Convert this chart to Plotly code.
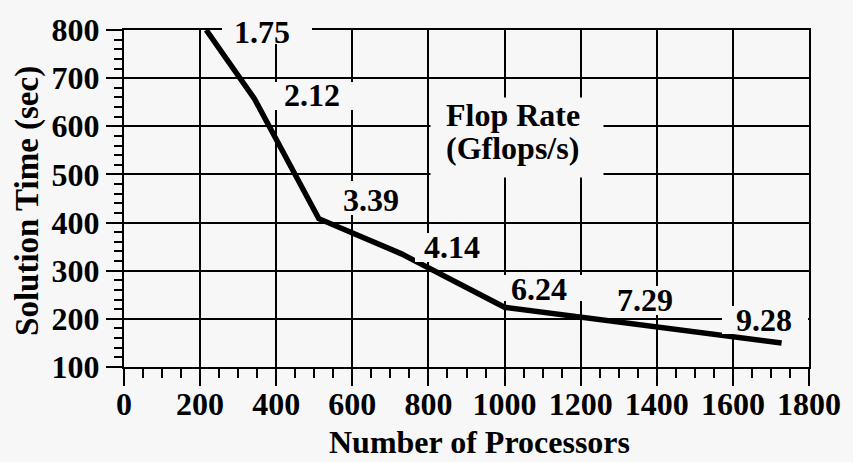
import plotly.graph_objects as go

# ---- data ----
processors = [216, 343, 512, 729, 1000, 1331, 1728]
solution_time = [800, 657, 408, 335, 224, 191, 150]
flop_rate = ["1.75", "2.12", "3.39", "4.14", "6.24", "7.29", "9.28"]
x_ticks = [0, 200, 400, 600, 800, 1000, 1200, 1400, 1600, 1800]
y_ticks = [100, 200, 300, 400, 500, 600, 700, 800]

# ---- label layout (pixel offsets from data point) ----
# text: (dx of text left, dy up of text centre)
text_off = [(26, -2), (27, 4), (22, 19), (21, 7), (4, 18), (-16, 23), (-48, 23)]
# box: (dx of box centre, dy up, width, height)
box_off = [(61, 2, 90, 32), (59, 3, 90, 28), (52, 21, 74, 34), (50, 6, 72, 29),
           (39, 19, 89, 26), (12, 23, 72, 29), (-17, 23, 86, 28)]

BG = "#f7f7f7"
FONT = "Liberation Serif"

fig = go.Figure()
fig.add_trace(go.Scatter(
    x=processors, y=solution_time, mode="lines",
    line=dict(color="black", width=5.5), hoverinfo="skip", showlegend=False,
))

annotations = []
for xv, yv, lab, (tdx, tdy), (bdx, bdy, bw, bh) in zip(
        processors, solution_time, flop_rate, text_off, box_off):
    annotations.append(dict(
        x=xv, y=yv, xref="x", yref="y", text=" ", showarrow=False,
        xshift=bdx, yshift=bdy, width=bw, height=bh, bgcolor=BG,
        borderpad=0, borderwidth=0, xanchor="center", yanchor="middle",
        font=dict(size=4)))
    annotations.append(dict(
        x=xv, y=yv, xref="x", yref="y", text=lab, showarrow=False,
        xshift=tdx, yshift=tdy, xanchor="left", yanchor="middle",
        font=dict(family=FONT, size=32, color="black", weight="bold")))

# Flop Rate title box and text
annotations.append(dict(
    x=1032, y=576, xref="x", yref="y", text=" ", showarrow=False,
    width=172, height=79, bgcolor=BG, borderpad=0, xanchor="center",
    yanchor="middle", font=dict(size=4)))
annotations.append(dict(
    x=840, y=623, xref="x", yref="y", text="Flop Rate", showarrow=False,
    xanchor="left", yanchor="middle",
    font=dict(family=FONT, size=32, color="black", weight="bold")))
annotations.append(dict(
    x=840, y=555, xref="x", yref="y", text="(Gflops/s)", showarrow=False,
    xanchor="left", yanchor="middle",
    font=dict(family=FONT, size=32, color="black", weight="bold")))

# axis titles
annotations.append(dict(
    x=483, y=442, xref="paper", yref="paper", text="Number of Processors",
    showarrow=False, xanchor="center", yanchor="middle",
    font=dict(family=FONT, size=32, color="black", weight="bold")))
annotations.append(dict(
    x=27, y=200, xref="paper", yref="paper", text="Solution Time (sec)",
    showarrow=False, xanchor="center", yanchor="middle", textangle=-90,
    font=dict(family=FONT, size=33, color="black", weight="bold")))

W, H = 853, 462
L, R, T, B = 124, 37, 28, 95
pw, ph = W - L - R, H - T - B
# convert title pixel positions to paper coords
for a in annotations[-2:]:
    a["x"] = (a["x"] - L) / pw
    a["y"] = 1 - (a["y"] - T) / ph

fig.update_layout(
    width=W, height=H,
    margin=dict(l=L, r=R, t=T, b=B, pad=0),
    paper_bgcolor=BG, plot_bgcolor=BG,
    annotations=annotations,
    showlegend=False,
)
fig.update_xaxes(
    range=[0, 1800], tickvals=x_ticks, ticktext=[str(v) for v in x_ticks],
    showgrid=True, gridcolor="black", gridwidth=2,
    showline=True, linecolor="black", linewidth=2, mirror=True,
    ticks="outside", ticklen=17, tickwidth=2, tickcolor="black",
    ticklabelstandoff=-9,
    tickfont=dict(family=FONT, size=32, color="black", weight="bold"),
    minor=dict(dtick=50, tick0=0, ticks="outside", ticklen=9, tickwidth=2,
               tickcolor="black", showgrid=False),
    zeroline=False, fixedrange=True,
)
fig.update_yaxes(
    range=[100, 800], tickvals=y_ticks, ticktext=[str(v) for v in y_ticks],
    showgrid=True, gridcolor="black", gridwidth=2,
    showline=True, linecolor="black", linewidth=2, mirror=True,
    ticks="outside", ticklen=16, tickwidth=2, tickcolor="black",
    tickfont=dict(family=FONT, size=32, color="black", weight="bold"),
    minor=dict(dtick=20, tick0=0, ticks="outside", ticklen=8, tickwidth=2,
               tickcolor="black", showgrid=False),
    zeroline=False, fixedrange=True,
)

fig.write_html("out.html", config={"displayModeBar": False})
